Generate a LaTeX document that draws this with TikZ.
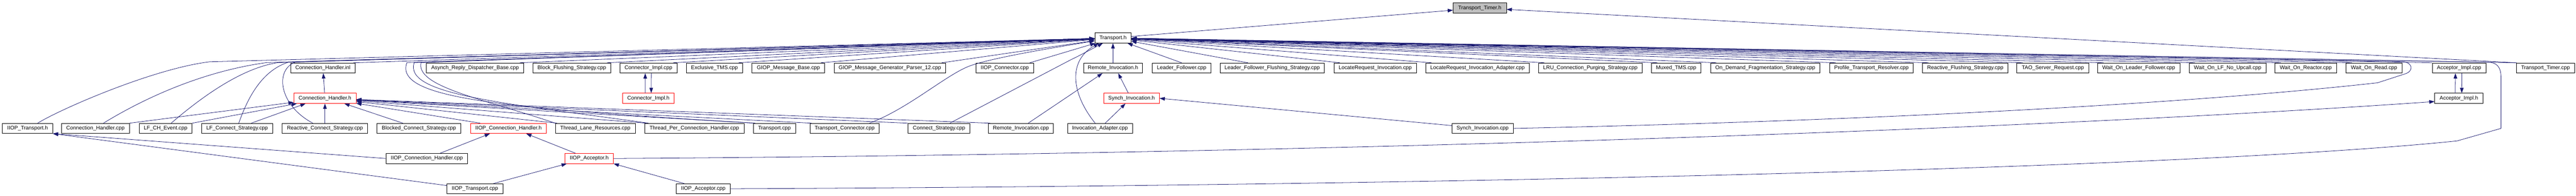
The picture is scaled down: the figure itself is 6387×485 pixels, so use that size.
\documentclass[tikz,border=0pt]{standalone}
\usepackage{fontspec}
\setmainfont{Liberation Sans}
\usetikzlibrary{arrows.meta}
\definecolor{edgeblue}{HTML}{191970}
\definecolor{nodegrey}{HTML}{BFBFBF}
\begin{document}
\begin{tikzpicture}[x=1pt,y=-1pt,
  box/.style={draw=black,line width=1pt,rectangle,minimum height=25pt,inner sep=0pt,font=\fontsize{13.2}{15}\selectfont},
  redbox/.style={box,draw=red},
  rootbox/.style={box,fill=nodegrey},
  dep/.style={draw=edgeblue,line width=1pt,-{Triangle[length=13pt,width=9pt]}}]
\useasboundingbox (0,0) rectangle (6387,485);
% row 0 / 1
\node[rootbox,minimum width=132pt] (ttimerh) at (3669,19.8) {Transport\_Timer.h};
\node[box,minimum width=90pt] (transh) at (2759.5,94) {Transport.h};
% row 2
\node[box,minimum width=160pt] (chinl) at (800.7,168.5) {Connection\_Handler.inl};
\node[box,minimum width=241.6pt] (ardb) at (1177.8,168.5) {Asynch\_Reply\_Dispatcher\_Base.cpp};
\node[box,minimum width=194.1pt] (bfs) at (1417.75,168.5) {Block\_Flushing\_Strategy.cpp};
\node[box,minimum width=141.6pt] (cimplcpp) at (1607.8,168.5) {Connector\_Impl.cpp};
\node[box,minimum width=138.3pt] (etms) at (1771.55,168.5) {Exclusive\_TMS.cpp};
\node[box,minimum width=180pt] (gmb) at (1954.8,168.5) {GIOP\_Message\_Base.cpp};
\node[box,minimum width=276.5pt] (gmgp) at (2206.25,168.5) {GIOP\_Message\_Generator\_Parser\_12.cpp};
\node[box,minimum width=143.1pt] (iiopconcpp) at (2491.25,168.5) {IIOP\_Connector.cpp};
\node[box,minimum width=145.8pt] (remh) at (2759.5,168.5) {Remote\_Invocation.h};
\node[box,minimum width=146.2pt] (lf) at (2929.7,168.5) {Leader\_Follower.cpp};
\node[box,minimum width=258.6pt] (lffs) at (3154.1,168.5) {Leader\_Follower\_Flushing\_Strategy.cpp};
\node[box,minimum width=204.1pt] (lri) at (3409.65,168.5) {LocateRequest\_Invocation.cpp};
\node[box,minimum width=256.9pt] (lria) at (3663.25,168.5) {LocateRequest\_Invocation\_Adapter.cpp};
\node[box,minimum width=257.2pt] (lru) at (3943.1,168.5) {LRU\_Connection\_Purging\_Strategy.cpp};
\node[box,minimum width=122.1pt] (mtms) at (4155.85,168.5) {Muxed\_TMS.cpp};
\node[box,minimum width=271.8pt] (odfs) at (4376.9,168.5) {On\_Demand\_Fragmentation\_Strategy.cpp};
\node[box,minimum width=207.2pt] (ptr) at (4640.2,168.5) {Profile\_Transport\_Resolver.cpp};
\node[box,minimum width=211.6pt] (rfs) at (4872.8,168.5) {Reactive\_Flushing\_Strategy.cpp};
\node[box,minimum width=178.3pt] (tsr) at (5089.85,168.5) {TAO\_Server\_Request.cpp};
\node[box,minimum width=203.5pt] (wolf) at (5302.75,168.5) {Wait\_On\_Leader\_Follower.cpp};
\node[box,minimum width=191pt] (wolfnu) at (5523.1,168.5) {Wait\_On\_LF\_No\_Upcall.cpp};
\node[box,minimum width=152.4pt] (wor) at (5716.9,168.5) {Wait\_On\_Reactor.cpp};
\node[box,minimum width=138.6pt] (wordd) at (5886.3,168.5) {Wait\_On\_Read.cpp};
\node[box,minimum width=133.2pt] (aicpp) at (6097,168.5) {Acceptor\_Impl.cpp};
\node[box,minimum width=145.2pt] (ttcpp) at (6311.3,168.5) {Transport\_Timer.cpp};
% row 3
\node[redbox,minimum width=154.2pt] (chh) at (805.7,243.5) {Connection\_Handler.h};
\node[redbox,minimum width=127.6pt] (cimplh) at (1607.6,243.5) {Connector\_Impl.h};
\node[redbox,minimum width=137.9pt] (synh) at (2805.55,243.5) {Synch\_Invocation.h};
\node[box,minimum width=120pt] (aih) at (6096.7,243.5) {Acceptor\_Impl.h};
% row 4
\node[box,minimum width=124.5pt] (iiopth) at (68.45,318) {IIOP\_Transport.h};
\node[box,minimum width=168.3pt] (chcpp) at (236.55,318) {Connection\_Handler.cpp};
\node[box,minimum width=131.4pt] (lfch) at (410.5,318) {LF\_CH\_Event.cpp};
\node[box,minimum width=176pt] (lfcs) at (588,318) {LF\_Connect\_Strategy.cpp};
\node[box,minimum width=212pt] (rcs) at (805.7,318) {Reactive\_Connect\_Strategy.cpp};
\node[box,minimum width=208pt] (bcs) at (1038.8,318) {Blocked\_Connect\_Strategy.cpp};
\node[redbox,minimum width=188.2pt] (iiopchh) at (1260.7,318) {IIOP\_Connection\_Handler.h};
\node[box,minimum width=198.3pt] (tlr) at (1476.05,318) {Thread\_Lane\_Resources.cpp};
\node[box,minimum width=246.2pt] (tpch) at (1721.4,318) {Thread\_Per\_Connection\_Handler.cpp};
\node[box,minimum width=105.2pt] (tcpp) at (1920.2,318) {Transport.cpp};
\node[box,minimum width=172.3pt] (tconn) at (2094.15,318) {Transport\_Connector.cpp};
\node[box,minimum width=153.4pt] (cs) at (2328.1,318) {Connect\_Strategy.cpp};
\node[box,minimum width=161.4pt] (ricpp) at (2531.4,318) {Remote\_Invocation.cpp};
\node[box,minimum width=160.6pt] (iacpp) at (2727.3,318) {Invocation\_Adapter.cpp};
\node[box,minimum width=151.7pt] (syncpp) at (3675.85,318) {Synch\_Invocation.cpp};
% row 5
\node[box,minimum width=202.8pt] (iiopchcpp) at (1058.3,392.5) {IIOP\_Connection\_Handler.cpp};
\node[redbox,minimum width=120.3pt] (iiopah) at (1460.85,392.5) {IIOP\_Acceptor.h};
% row 6
\node[box,minimum width=138.3pt] (iioptcpp) at (1177.45,467.5) {IIOP\_Transport.cpp};
\node[box,minimum width=134.1pt] (iiopacpp) at (1743.65,467.5) {IIOP\_Acceptor.cpp};

% ---- edges into Transport_Timer.h
\draw[dep] (transh) -- (ttimerh);
\draw[dep] (ttcpp.north west) -- (ttimerh);

% ---- edges into Transport.h from the left
\draw[dep] ([xshift=25pt]iiopth.north) .. controls (150,270) and (380,170) .. (520,153) -- (transh);
\draw[dep] ([xshift=20pt]chcpp.north) .. controls (330,260) and (480,180) .. (661,155) -- (transh);
\draw[dep] ([xshift=14pt]lfch.north) .. controls (500,240) and (600,168) .. (690,155) -- (transh);
\draw[dep] ([xshift=4pt]lfcs.north) .. controls (615,240) and (650,175) .. (715,154) -- (transh);
\draw[dep] ([xshift=-30pt]rcs.north) .. controls (690,260) and (680,170) .. (735,153) -- (transh);
\draw[dep] ([xshift=-5pt]chinl.north east) -- (transh);
\draw[dep] ([xshift=-10pt]ardb.north east) -- (transh);
\draw[dep] ([xshift=-10pt]bfs.north east) -- (transh);
\draw[dep] ([xshift=-10pt]cimplcpp.north east) -- (transh);
\draw[dep] ([xshift=-10pt]etms.north east) -- (transh);
\draw[dep] ([xshift=-10pt]gmb.north east) -- (transh);
\draw[dep] ([xshift=-10pt]gmgp.north east) -- (transh);
\draw[dep] ([xshift=-10pt]iiopconcpp.north east) -- (transh);
\draw[dep] (tlr.north west) .. controls (1200,245) and (1030,215) .. (1044,155) -- (transh);
\draw[dep] ([xshift=10pt]tpch.north west) .. controls (1250,255) and (1000,235) .. (1027,155) -- (transh);
\draw[dep] ([xshift=5pt]tcpp.north west) .. controls (1250,268) and (975,245) .. (1009,155) -- (transh);
\draw[dep] ([xshift=-25pt]tconn.north east) .. controls (2250,270) and (2340,190) .. (2400,165) .. controls (2450,145) and (2600,120) .. (transh);
\draw[dep] ([xshift=27pt]cs.north) -- (2655,148) .. controls (2680,136) and (2700,125) .. (transh);
\draw[dep] ([xshift=-12pt]iacpp.north) .. controls (2655,230) and (2648,150) .. ([xshift=-35pt]transh.south);
\draw[dep] (remh) -- (transh);

% ---- edges into Transport.h from the right
\draw[dep] (lf.north) -- (transh);
\draw[dep] ([xshift=-60pt]lffs.north) -- (transh);
\draw[dep] ([xshift=15pt]lri.north west) -- (transh);
\draw[dep] ([xshift=15pt]lria.north west) -- (transh);
\draw[dep] ([xshift=15pt]lru.north west) -- (transh);
\draw[dep] ([xshift=15pt]mtms.north west) -- (transh);
\draw[dep] ([xshift=15pt]odfs.north west) -- (transh);
\draw[dep] ([xshift=15pt]ptr.north west) -- (transh);
\draw[dep] ([xshift=15pt]rfs.north west) -- (transh);
\draw[dep] ([xshift=15pt]tsr.north west) -- (transh);
\draw[dep] ([xshift=15pt]wolf.north west) -- (transh);
\draw[dep] ([xshift=15pt]wolfnu.north west) -- (transh);
\draw[dep] ([xshift=15pt]wor.north west) -- (transh);
\draw[dep] ([xshift=15pt]wordd.north west) -- (transh);
\draw[dep] (aicpp.north west) -- (transh);
\draw[dep] ([xshift=2pt]ttcpp.north west) -- (transh);
\draw[dep] (syncpp.east) .. controls (4600,300) and (5400,260) .. (5895,205) -- (5966,182) .. controls (5982,176) and (5984,157) .. (5960,153) -- (transh);
\draw[dep] (iiopacpp.east) .. controls (3500,460) and (5400,420) .. (6092,349) -- (6201,318) -- (6201,192) .. controls (6201,165) and (6190,155) .. (6170,154) -- (transh);

% ---- Connection_Handler.h
\draw[dep] (chh) -- (chinl);
\draw[dep] (chcpp.north east) -- (chh);
\draw[dep] (lfch.north east) -- (chh);
\draw[dep] ([xshift=35pt]lfcs.north) -- ([xshift=-48pt]chh.south);
\draw[dep] (rcs) -- (chh);
\draw[dep] ([xshift=-40pt]bcs.north) -- ([xshift=48pt]chh.south);
\draw[dep] ([xshift=-70pt]iiopchh.north) -- (chh);
\draw[dep] ([xshift=5pt]tlr.north west) -- (chh);
\draw[dep] ([xshift=5pt]tpch.north west) -- (chh);
\draw[dep] ([xshift=5pt]tcpp.north west) -- (chh);
\draw[dep] ([xshift=5pt]tconn.north west) -- (chh);
\draw[dep] (cs.north west) -- (chh);
\draw[dep] ([xshift=5pt]ricpp.north west) -- (chh);

% ---- Connector_Impl / Acceptor_Impl cycles
\draw[dep] ([xshift=-8pt]cimplh.north) -- ([xshift=-8pt]cimplcpp.south);
\draw[dep] ([xshift=7pt]cimplcpp.south) -- ([xshift=7pt]cimplh.north);
\draw[dep] ([xshift=-9pt]aih.north) -- ([xshift=-9pt]aicpp.south);
\draw[dep] ([xshift=7pt]aicpp.south) -- ([xshift=7pt]aih.north);

% ---- IIOP part
\draw[dep] ([xshift=33pt]iiopchcpp.north) -- ([xshift=-46pt]iiopchh.south);
\draw[dep] ([xshift=-34pt]iiopah.north) -- ([xshift=44pt]iiopchh.south);
\draw[dep] (iiopchcpp.west) -- (iiopth.south east);
\draw[dep] ([yshift=8pt]iioptcpp.west) -- (iiopth.south east);
\draw[dep] ([xshift=46pt]iioptcpp.north) -- ([xshift=5pt]iiopah.south west);
\draw[dep] ([xshift=-47pt]iiopacpp.north) -- (iiopah.south east);
\draw[dep] (iiopah.east) .. controls (3500,380) and (5200,310) .. ([yshift=-8pt]aih.west);

% ---- invocation part
\draw[dep] ([xshift=18pt]ricpp.north) -- ([xshift=-26pt]remh.south);
\draw[dep] ([xshift=-8pt]synh.north) -- ([xshift=13pt]remh.south);
\draw[dep] ([xshift=13pt]iacpp.north) -- ([xshift=-15pt]synh.south);
\draw[dep] ([yshift=7pt]syncpp.west) -- (synh.east);
\end{tikzpicture}
\end{document}
